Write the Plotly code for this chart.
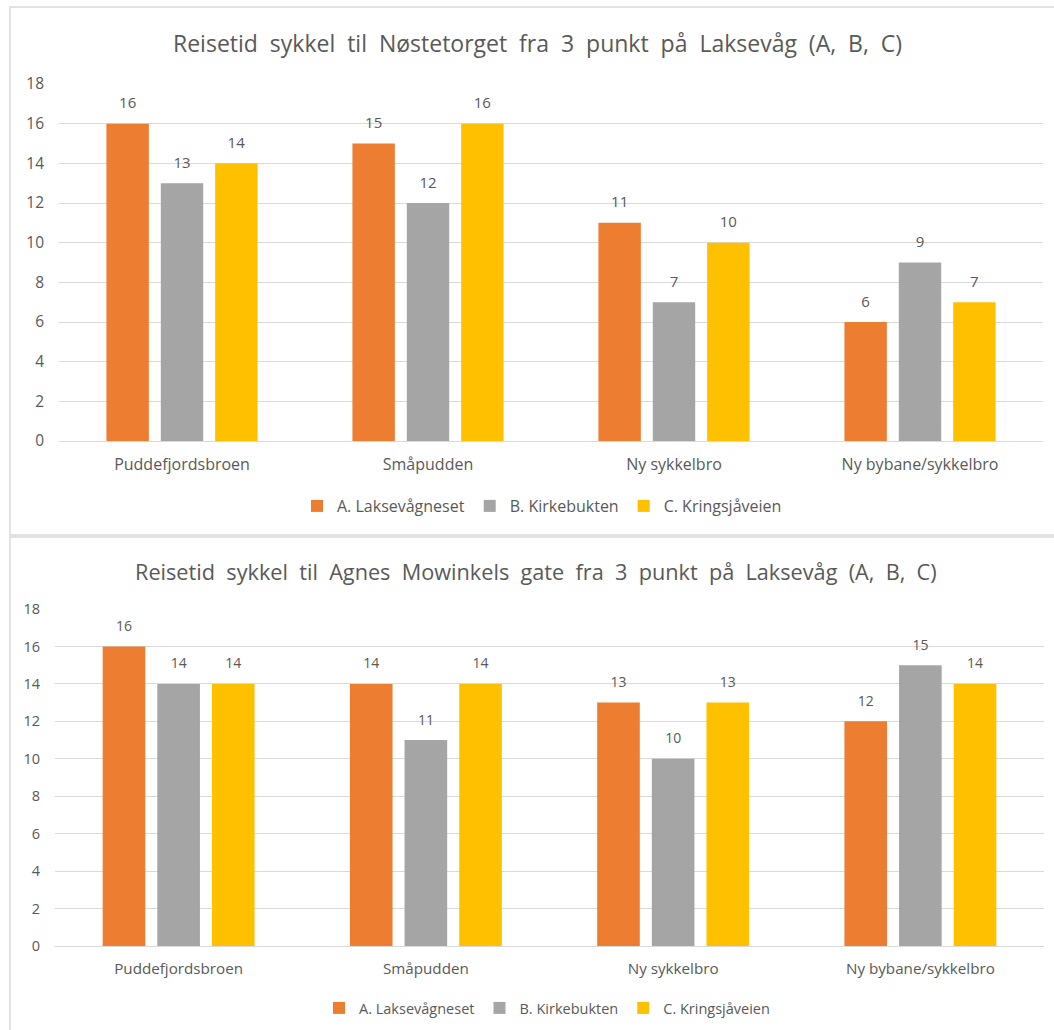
import plotly.graph_objects as go

categories = ["Puddefjordsbroen", "Småpudden", "Ny sykkelbro", "Ny bybane/sykkelbro"]
series_names = ["A. Laksevågneset", "B. Kirkebukten", "C. Kringsjåveien"]
colors = ["#ED7D31", "#A5A5A5", "#FFC000"]

top_title = "Reisetid  sykkel  til  Nøstetorget  fra  3  punkt  på  Laksevåg  (A,  B,  C)"
top_a = [16, 15, 11, 6]
top_b = [13, 12, 7, 9]
top_c = [14, 16, 10, 7]

bottom_title = "Reisetid  sykkel  til  Agnes  Mowinkels  gate  fra  3  punkt  på  Laksevåg  (A,  B,  C)"
bottom_a = [16, 14, 13, 12]
bottom_b = [14, 11, 10, 15]
bottom_c = [14, 14, 13, 14]

y_ticks = [0, 2, 4, 6, 8, 10, 12, 14, 16, 18]

W, H = 1054, 1030
FONT = "Open Sans"
TXT = "#595959"
GRID = "#D9D9D9"

fig = go.Figure()

for vals_set, xa, ya, leg, lab in [((top_a, top_b, top_c), "x", "y", "legend", 15),
                                   ((bottom_a, bottom_b, bottom_c), "x2", "y2", "legend2", 14)]:
    for name, vals, col in zip(series_names, vals_set, colors):
        fig.add_trace(go.Bar(
            x=categories, y=vals, name=name, marker_color=col,
            marker_line_width=0,
            text=[f"<span style='font-size:{lab}px'>{v}</span><br> " for v in vals],
            textposition="outside", cliponaxis=False,
            textfont=dict(family=FONT, size=8, color=TXT),
            xaxis=xa, yaxis=ya, legend=leg,
        ))

def px_x(v):
    return v / W

def px_y(v):
    return 1 - v / H

def xax(size):
    return dict(showgrid=False, showline=False, zeroline=False, ticks="",
                tickfont=dict(family=FONT, size=size, color=TXT), ticklabelstandoff=12)

def yax(size):
    return dict(range=[0, 18], tickvals=y_ticks, showgrid=True, gridcolor=GRID,
                gridwidth=1.3, zeroline=True, zerolinecolor=GRID, zerolinewidth=1.3,
                showline=False, ticks="", tickfont=dict(family=FONT, size=size, color=TXT),
                ticklabelstandoff=14)

fig.update_layout(
    width=W, height=H,
    margin=dict(l=0, r=0, t=0, b=0, autoexpand=False),
    paper_bgcolor="white", plot_bgcolor="white",
    barmode="group", bargap=0.337, bargroupgap=0.22,
    font=dict(family=FONT, color=TXT),
    xaxis=dict(domain=[px_x(59), px_x(1043)], anchor="y", **xax(16)),
    yaxis=dict(domain=[px_y(441), px_y(84)], anchor="x", **yax(15.5)),
    xaxis2=dict(domain=[px_x(55), px_x(1044)], anchor="y2", **xax(15.2)),
    yaxis2=dict(domain=[px_y(946), px_y(609)], anchor="x2", **yax(14.5)),
    legend=dict(orientation="h", x=px_x(542), xanchor="center", y=px_y(506),
                yanchor="middle", font=dict(family=FONT, size=16, color=TXT),
                itemwidth=30, traceorder="normal"),
    legend2=dict(orientation="h", x=px_x(547), xanchor="center", y=px_y(1008),
                 yanchor="middle", font=dict(family=FONT, size=14.5, color=TXT),
                 itemwidth=30, traceorder="normal"),
    showlegend=True,
    annotations=[
        dict(text=top_title, x=px_x(538), y=px_y(43), xref="paper", yref="paper",
             xanchor="center", yanchor="middle", showarrow=False,
             font=dict(family=FONT, size=23, color=TXT)),
        dict(text=bottom_title, x=px_x(536), y=px_y(571), xref="paper", yref="paper",
             xanchor="center", yanchor="middle", showarrow=False,
             font=dict(family=FONT, size=21.7, color=TXT)),
    ],
    shapes=[
        dict(type="rect", xref="paper", yref="paper", x0=px_x(10), x1=px_x(1060),
             y0=px_y(535), y1=px_y(7), line=dict(color=GRID, width=1.5)),
        dict(type="rect", xref="paper", yref="paper", x0=px_x(10), x1=px_x(1060),
             y0=px_y(1040), y1=px_y(537), line=dict(color=GRID, width=1.5)),
    ],
)

fig.write_html("out.html")
